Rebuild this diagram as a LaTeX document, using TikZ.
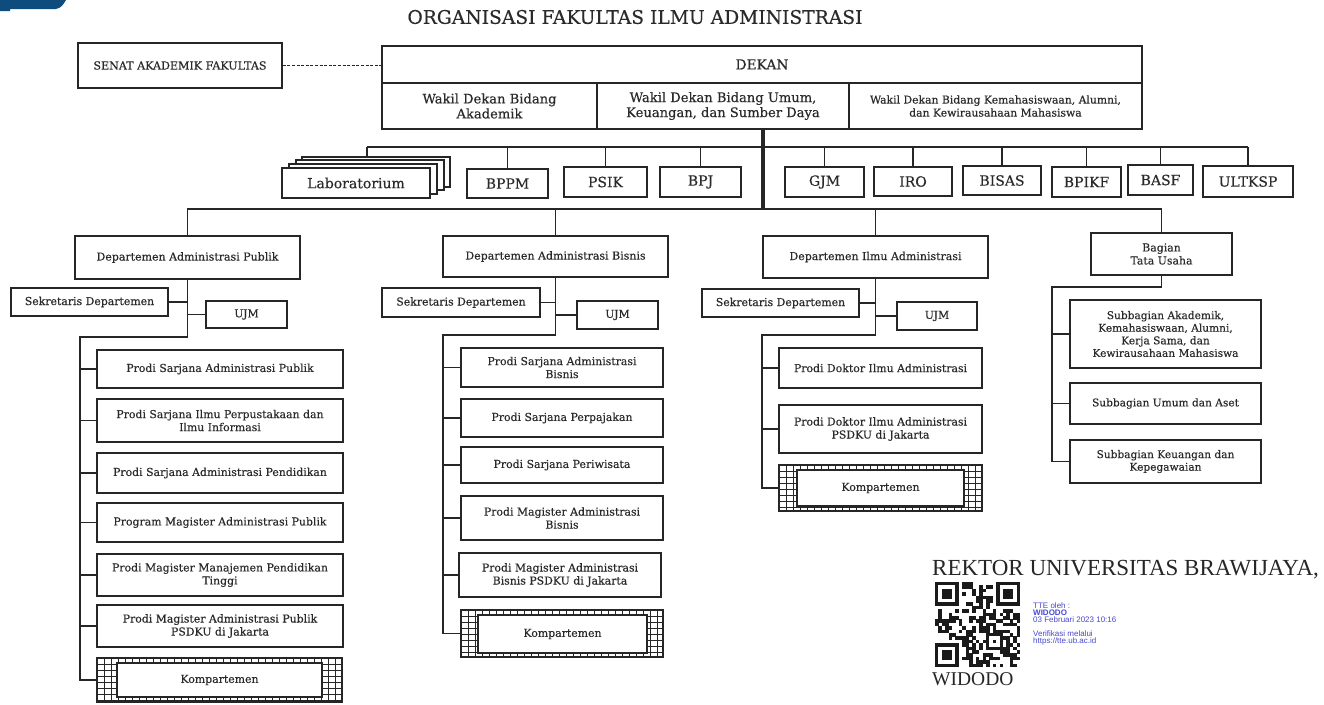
\documentclass[tikz,border=0pt]{standalone}
\usepackage{fontspec}
\setmainfont{DejaVu Serif}[FakeBold=0.35]
\newfontfamily\signfont{Liberation Serif}
\newfontfamily\ttefont{Liberation Sans}

\definecolor{linec}{HTML}{262626}
\definecolor{textc}{HTML}{2A2A2A}
\definecolor{cornerc}{HTML}{0D4C7D}
\definecolor{ttec}{HTML}{4848D0}
\definecolor{qrc}{HTML}{1A1A1A}

\tikzset{
  box/.style={draw=linec, line width=1.6pt, fill=white, inner sep=1pt,
    align=center, text=textc},
  unitbox/.style={box, font=\fontsize{14}{16}\selectfont},
  deptbox/.style={box, font=\fontsize{11}{13}\selectfont},
  smallbox/.style={box, font=\fontsize{10.9}{13}\selectfont},
  subbox/.style={box, font=\fontsize{10.6}{12.6}\selectfont},
  conn/.style={draw=linec, line width=1.3pt},
  hub/.style={draw=linec, line width=3.6pt},
  gridline/.style={draw=linec, line width=0.9pt},
}

% box given by its top-left and bottom-right corners
\newcommand\orgbox[7][]{%
  \node[box,#1,minimum width={#5-#3},minimum height={#6-#4}] (#2)
    at ({(#3+#5)/2},{(#4+#6)/2}) {#7};}

% hatched frame with an inner plain box: name, outer corners, inner corners
\newcommand\kompbox[9]{%
  \node[box, minimum width={#4-#2}, minimum height={#5-#3}] (#1)
    at ({(#2+#4)/2},{(#3+#5)/2}) {};
  \begin{scope}
    \clip (#2,#3) rectangle (#4,#5);
    \foreach \k in {0,...,36} \draw[gridline] ({#2+7*\k},#3) -- ({#2+7*\k},#5);
    \foreach \k in {0,...,8} \draw[gridline] (#2,{#3+6*\k}) -- (#4,{#3+6*\k});
  \end{scope}
  \node[box, line width=1.6pt, minimum width={#4-#2}, minimum height={#5-#3}, fill=none]
    at ({(#2+#4)/2},{(#3+#5)/2}) {};
  \node[box, line width=1.3pt, font=\fontsize{10.9}{12}\selectfont,
    minimum width={#8-#6}, minimum height={#9-#7}] (#1in)
    at ({(#6+#8)/2},{(#7+#9)/2}) {Kompartemen};}

\begin{document}
\begin{tikzpicture}[x=1pt,y=-1pt]
\useasboundingbox (0,0) rectangle (1324,704);
\fill[white] (0,0) rectangle (1324,704);

% corner mark
\fill[cornerc] (0,0) -- (66,0) .. controls (63,5) and (61,8) .. (56,9)
  -- (10,9) -- (10,11) -- (0,11) -- cycle;

% title
\node[text=textc, font=\fontsize{18.7}{21}\selectfont] (title) at (635,17)
  {ORGANISASI FAKULTAS ILMU ADMINISTRASI};

% faculty leadership
\orgbox[font=\fontsize{11.1}{13}\selectfont]{senat}{78}{43}{282}{88}{SENAT AKADEMIK FAKULTAS}
\orgbox[font=\fontsize{13.8}{16}\selectfont]{dekan}{382}{46}{1142}{83}{DEKAN}
\orgbox[font=\fontsize{13.1}{15}\selectfont]{wd1}{382}{83}{597}{129}{Wakil Dekan Bidang\\Akademik}
\orgbox[font=\fontsize{13.1}{15}\selectfont]{wd2}{597}{83}{849}{129}{Wakil Dekan Bidang Umum,\\Keuangan, dan Sumber Daya}
\orgbox[font=\fontsize{10.8}{13}\selectfont]{wd3}{849}{83}{1142}{129}{Wakil Dekan Bidang Kemahasiswaan, Alumni,\\dan Kewirausahaan Mahasiswa}
\draw[conn, dash pattern=on 3pt off 1.6pt] (senat.east) -- (senat.east -| dekan.west);

% main trunk and the two horizontal bars
\coordinate (trunk) at (763,209);
\coordinate (uL) at (367,147);
\coordinate (uR) at (1248,147);
\coordinate (dL) at (187,209);
\coordinate (dR) at (1162,209);
\draw[conn] (uL) -- (uR);
\draw[conn] (dL) -- (dR);
\draw[hub] (trunk |- wd2.south) -- (trunk);

% units
\orgbox{lab4}{302}{157}{450}{187}{}
\orgbox{lab3}{296}{160}{444}{190}{}
\orgbox{lab2}{289}{164}{437}{194}{}
\orgbox[unitbox]{lab1}{282}{168}{430}{198}{Laboratorium}
\orgbox[unitbox]{bppm}{467}{169}{548}{198}{BPPM}
\orgbox[unitbox]{psik}{564}{167}{647}{197}{PSIK}
\orgbox[unitbox]{bpj}{660}{167}{741}{197}{BPJ}
\orgbox[unitbox]{gjm}{785}{167}{864}{197}{GJM}
\orgbox[unitbox]{iro}{874}{167}{952}{196}{IRO}
\orgbox[unitbox]{bisas}{963}{166}{1041}{195}{BISAS}
\orgbox[unitbox]{bpikf}{1052}{167}{1121}{197}{BPIKF}
\orgbox[unitbox]{basf}{1128}{165}{1193}{195}{BASF}
\orgbox[unitbox]{ultksp}{1203}{166}{1293}{197}{ULTKSP}
\draw[conn] (uL) -- (uL |- lab4.north);
\foreach \u in {bppm,psik,bpj,gjm,iro,bisas,bpikf,basf,ultksp}
  \draw[conn] (\u.north |- uL) -- (\u.north);

% Departemen Administrasi Publik
\orgbox[deptbox]{dap}{75}{236}{300}{279}{Departemen Administrasi Publik}
\orgbox[smallbox]{sap}{11}{288}{168}{316}{Sekretaris Departemen}
\orgbox[smallbox]{uap}{206}{301}{287}{328}{UJM}
\orgbox[smallbox]{pap1}{97}{350}{343}{388}{Prodi Sarjana Administrasi Publik}
\orgbox[smallbox]{pap2}{97}{399}{343}{442}{Prodi Sarjana Ilmu Perpustakaan dan\\Ilmu Informasi}
\orgbox[smallbox]{pap3}{97}{453}{343}{493}{Prodi Sarjana Administrasi Pendidikan}
\orgbox[smallbox]{pap4}{97}{503}{343}{542}{Program Magister Administrasi Publik}
\orgbox[smallbox]{pap5}{97}{554}{343}{596}{Prodi Magister Manajemen Pendidikan\\Tinggi}
\orgbox[smallbox]{pap6}{97}{605}{343}{647}{Prodi Magister Administrasi Publik\\PSDKU di Jakarta}
\kompbox{kap}{97}{658}{342}{702}{117}{663}{322}{697}
\coordinate (sap-k) at (80,337);
\draw[conn] (dap.north |- dL) -- (dap.north);
\draw[conn] (dap.south) |- (sap-k) -- (sap-k |- kap.west) -- (kap.west);
\draw[conn] (sap.east) -- (sap.east -| dap.south);
\draw[conn] (uap.west) -- (uap.west -| dap.south);
\foreach \p in {pap1,pap2,pap3,pap4,pap5,pap6}
  \draw[conn] (sap-k |- \p.west) -- (\p.west);

% Departemen Administrasi Bisnis
\orgbox[deptbox]{dab}{443}{236}{668}{277}{Departemen Administrasi Bisnis}
\orgbox[smallbox]{sab}{382}{288}{540}{317}{Sekretaris Departemen}
\orgbox[smallbox]{uab}{577}{301}{658}{329}{UJM}
\orgbox[smallbox]{pab1}{461}{348}{663}{387}{Prodi Sarjana Administrasi\\Bisnis}
\orgbox[smallbox]{pab2}{461}{399}{663}{437}{Prodi Sarjana Perpajakan}
\orgbox[smallbox]{pab3}{461}{447}{663}{483}{Prodi Sarjana Periwisata}
\orgbox[smallbox]{pab4}{461}{496}{663}{540}{Prodi Magister Administrasi\\Bisnis}
\orgbox[smallbox]{pab5}{459}{553}{661}{597}{Prodi Magister Administrasi\\Bisnis PSDKU di Jakarta}
\kompbox{kab}{461}{610}{663}{657}{478}{615}{647}{653}
\coordinate (sab-k) at (443,335);
\draw[conn] (dab.north |- dL) -- (dab.north);
\draw[conn] (dab.south) |- (sab-k) -- (sab-k |- kab.west) -- (kab.west);
\draw[conn] (sab.east) -- (sab.east -| dab.south);
\draw[conn] (uab.west) -- (uab.west -| dab.south);
\foreach \p in {pab1,pab2,pab3,pab4,pab5}
  \draw[conn] (sab-k |- \p.west) -- (\p.west);

% Departemen Ilmu Administrasi
\orgbox[deptbox]{dia}{763}{236}{988}{278}{Departemen Ilmu Administrasi}
\orgbox[smallbox]{sia}{702}{289}{859}{317}{Sekretaris Departemen}
\orgbox[smallbox]{uia}{897}{302}{977}{330}{UJM}
\orgbox[smallbox]{pia1}{779}{348}{982}{388}{Prodi Doktor Ilmu Administrasi}
\orgbox[smallbox]{pia2}{779}{405}{982}{453}{Prodi Doktor Ilmu Administrasi\\PSDKU di Jakarta}
\kompbox{kia}{779}{465}{982}{511}{797}{470}{964}{506}
\coordinate (sia-k) at (762,335);
\draw[conn] (dia.north |- dL) -- (dia.north);
\draw[conn] (dia.south) |- (sia-k) -- (sia-k |- kia.west) -- (kia.west);
\draw[conn] (sia.east) -- (sia.east -| dia.south);
\draw[conn] (uia.west) -- (uia.west -| dia.south);
\foreach \p in {pia1,pia2}
  \draw[conn] (sia-k |- \p.west) -- (\p.west);

% Bagian Tata Usaha
\orgbox[smallbox]{btu}{1091}{233}{1232}{275}{Bagian\\Tata Usaha}
\orgbox[subbox]{sb1}{1070}{300}{1261}{368}{Subbagian Akademik,\\Kemahasiswaan, Alumni,\\Kerja Sama, dan\\Kewirausahaan Mahasiswa}
\orgbox[subbox]{sb2}{1070}{383}{1261}{424}{Subbagian Umum dan Aset}
\orgbox[subbox]{sb3}{1070}{440}{1261}{483}{Subbagian Keuangan dan\\Kepegawaian}
\coordinate (btu-k) at (1052,287);
\draw[conn] (btu.north |- dR) -- (btu.north);
\draw[conn] (btu.south) |- (btu-k) -- (btu-k |- sb3.west) -- (sb3.west);
\foreach \p in {sb1,sb2}
  \draw[conn] (btu-k |- \p.west) -- (\p.west);

% signature block
\node[anchor=base west, inner sep=0, text=black!85,
  font=\signfont\fontsize{23}{26}\selectfont] (rektor) at (932,575)
  {REKTOR UNIVERSITAS BRAWIJAYA,};
\begin{scope}[shift={(935,582)}]
  \pgfmathsetseed{42}
  \foreach \i in {0,...,24}{
    \foreach \j in {0,...,24}{
      \pgfmathtruncatemacro\skipit{((\i<8)&&(\j<8))||((\i>16)&&(\j<8))||((\i<8)&&(\j>16))||((\i>14)&&(\i<20)&&(\j>14)&&(\j<20))}
      \pgfmathtruncatemacro\on{rnd<0.5}
      \ifnum\skipit=0 \ifnum\on=1
        \fill[qrc] ({\i*3.4},{\j*3.4}) rectangle ++(3.5,3.5);
      \fi\fi
    }
  }
  \foreach \fx/\fy in {0/0,18/0,0/18}{
    \fill[qrc] ({\fx*3.4},{\fy*3.4}) rectangle ++(23.8,23.8);
    \fill[white] ({(\fx+1)*3.4},{(\fy+1)*3.4}) rectangle ++(17,17);
    \fill[qrc] ({(\fx+2)*3.4},{(\fy+2)*3.4}) rectangle ++(10.2,10.2);
  }
  \fill[qrc] ({15*3.4},{15*3.4}) rectangle ++(17,17);
  \fill[white] ({16*3.4},{16*3.4}) rectangle ++(10.2,10.2);
  \fill[qrc] ({17*3.4},{17*3.4}) rectangle ++(3.4,3.4);
\end{scope}
\node[anchor=north west, inner sep=0, align=left, text=ttec,
  font=\ttefont\fontsize{8}{7.4}\selectfont] (tte) at (1033,602)
  {TTE oleh :\\\textbf{WIDODO}\\03 Februari 2023 10:16\\[6pt]Verifikasi melalui\\https://tte.ub.ac.id};
\node[anchor=base west, inner sep=0, text=black!85,
  font=\signfont\fontsize{19.5}{22}\selectfont] (widodo) at (932,685) {WIDODO};
\end{tikzpicture}
\end{document}
